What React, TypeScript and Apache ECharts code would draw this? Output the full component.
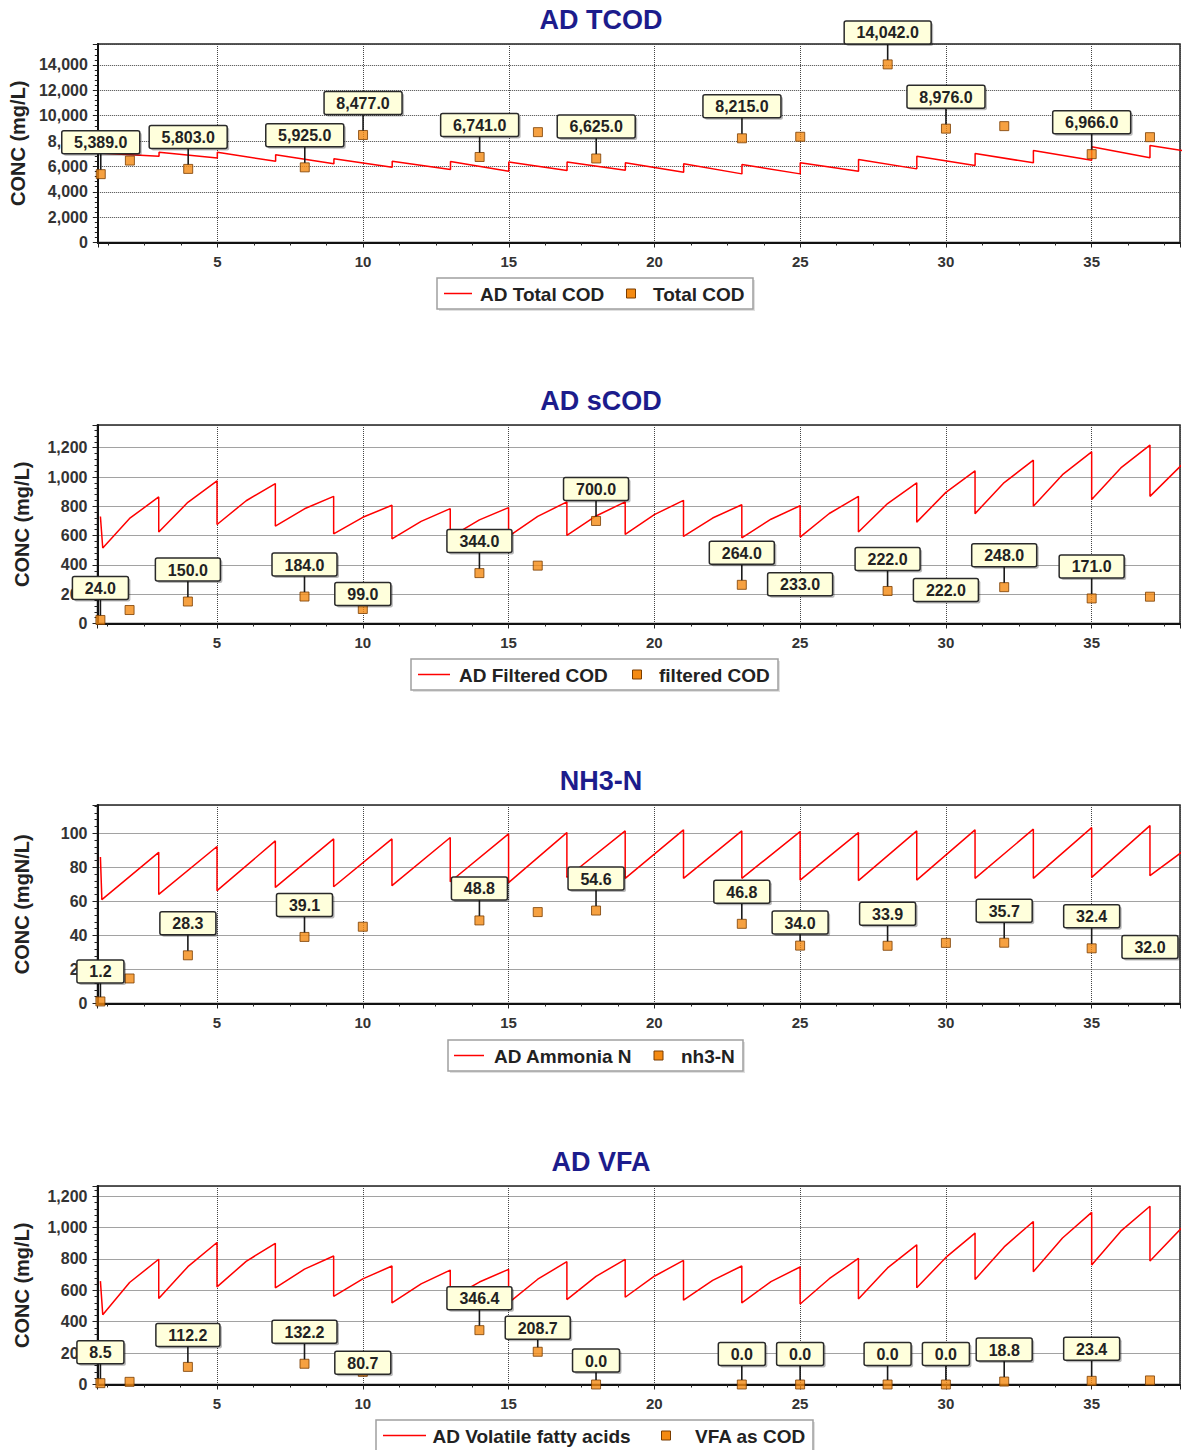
import React, { useEffect, useRef } from 'react';
import * as echarts from 'echarts';

// ---------- data ----------
const sampleDays = [1, 2, 4, 8, 10, 14, 16, 18, 23, 25, 28, 30, 32, 35, 37];

const tcodValues = [5389, 6460, 5803, 5925, 8477, 6741, 8700, 6625, 8215, 8337, 14042, 8976, 9175, 6966, 8305];
const scodValues = [24, 92, 150, 184, 99, 344, 395, 700, 264, 233, 222, 222, 248, 171, 183];
const nh3Values = [1.2, 14.7, 28.3, 39.1, 45.1, 48.8, 53.7, 54.6, 46.8, 34.0, 33.9, 35.6, 35.7, 32.4, 32.0];
const vfaValues = [8.5, 17, 112.2, 132.2, 80.7, 346.4, 208.7, 0.0, 0.0, 0.0, 0.0, 0.0, 18.8, 23.4, 26];

// which samples carry a value callout (1 = labelled)
const tcodLabelled = [1, 0, 1, 1, 1, 1, 0, 1, 1, 0, 1, 1, 0, 1, 0];
const scodLabelled = [1, 0, 1, 1, 1, 1, 0, 1, 1, 1, 1, 1, 1, 1, 0];
const nh3Labelled = [1, 0, 1, 1, 0, 1, 0, 1, 1, 1, 1, 0, 1, 1, 1];
const vfaLabelled = [1, 0, 1, 1, 1, 1, 1, 1, 1, 1, 1, 1, 1, 1, 0];

// model curves [day, value]
const tcodModel: [number, number][] = [
  [0.9, 7050], [3, 6800], [3, 7110], [5, 6670], [5, 7110], [7, 6400], [7, 6910], [9, 6200], [9, 6600],
  [11, 5935], [11, 6400], [13, 5750], [13, 6380], [15, 5615], [15, 6355], [17, 5670], [17, 6355],
  [19, 5700], [19, 6280], [21, 5535], [21, 6200], [23, 5410], [23, 6145], [25, 5410], [25, 6280],
  [27, 5615], [27, 6540], [29, 5805], [29, 6800], [31, 6065], [31, 7015], [33, 6280], [33, 7255],
  [35, 6485], [35, 7545], [37, 6680], [37, 7650], [38.1, 7260],
];
const scodModel: [number, number][] = [
  [1, 730], [1.08, 515], [2, 717], [3, 864], [3, 624], [4, 827], [5, 974], [5, 676], [6, 838], [7, 955],
  [7, 665], [8, 783], [9, 868], [9, 612], [10, 725], [11, 807], [11, 578], [12, 697], [13, 784], [13, 590],
  [14, 707], [15, 791], [15, 594], [16, 731], [17, 830], [17, 601], [18, 734], [19, 830], [19, 608],
  [20, 743], [21, 841], [21, 594], [22, 720], [23, 811], [23, 585], [24, 712], [25, 804], [25, 590],
  [26, 751], [27, 868], [27, 624], [28, 819], [29, 960], [29, 692], [30, 895], [31, 1042], [31, 750],
  [32, 962], [33, 1115], [33, 800], [34, 1016], [35, 1172], [35, 846], [36, 1062], [37, 1218], [37, 868],
  [38.1, 1085],
];
const nh3Model: [number, number][] = [
  [1, 86], [1.05, 61], [3, 88.8], [3, 64.1], [5, 92.2], [5, 66.3], [7, 95.5], [7, 68.2], [9, 96.7],
  [9, 68.6], [11, 96.7], [11, 69.2], [13, 97.5], [13, 71.5], [15, 99.6], [15, 71], [17, 100.4], [17, 74],
  [19, 101.4], [19, 73.5], [21, 102], [21, 73.5], [23, 101.4], [23, 73.5], [25, 101], [25, 72.5],
  [27, 100.4], [27, 72.2], [29, 101.4], [29, 72.5], [31, 102], [31, 73.5], [33, 102.4], [33, 73.5],
  [35, 103.3], [35, 74.1], [37, 104.5], [37, 75.1], [38.1, 89],
];
const vfaModel: [number, number][] = [
  [1, 659], [1.08, 445], [2, 650], [3, 798], [3, 548], [4, 751], [5, 905], [5, 622], [6, 785], [7, 900],
  [7, 616], [8, 735], [9, 819], [9, 562], [10, 673], [11, 755], [11, 520], [12, 641], [13, 729], [13, 548],
  [14, 653], [15, 734], [15, 520], [16, 671], [17, 783], [17, 541], [18, 689], [19, 798], [19, 556],
  [20, 690], [21, 791], [21, 537], [22, 664], [23, 755], [23, 520], [24, 656], [25, 749], [25, 513],
  [26, 674], [27, 804], [27, 545], [28, 743], [29, 890], [29, 616], [30, 810], [31, 965], [31, 669],
  [32, 877], [33, 1039], [33, 719], [34, 934], [35, 1097], [35, 761], [36, 977], [37, 1136], [37, 787],
  [38.1, 1000],
];

// ---------- layout (callout lift in px, keyed by day) ----------
const DEFAULT_LIFT = 32;
const tcodLift: Record<number, number> = {};
const scodLift: Record<number, number> = { 10: 15, 25: 5, 30: 1 };
const nh3Lift: Record<number, number> = { 1: 30, 25: 23, 37: 2 };
const vfaLift: Record<number, number> = { 1: 31, 10: 9, 16: 24, 18: 24, 23: 30.5, 25: 30.5, 28: 30.5, 30: 30.5 };

const FONT = '"Liberation Sans", Arial, Helvetica, sans-serif';
const TITLE_COLOR = '#1c1c8c';
const LINE_COLOR = '#ff0000';
const PT_FILL = '#f48a12';
const PT_BORDER = '#7a3d00';

const panels = [
  {
    title: 'AD TCOD', top: 44, yMax: 15650, yStep: 2000, yName: 'CONC (mg/L)',
    model: tcodModel, values: tcodValues, labelled: tcodLabelled, lift: tcodLift,
    lineName: 'AD Total COD', pointName: 'Total COD',
    legend: { x: 437, w: 316, top: 278, lx1: 444, lx2: 472, t1: 480, sq: 631, t2: 653 },
  },
  {
    title: 'AD sCOD', top: 425, yMax: 1355, yStep: 200, yName: 'CONC (mg/L)',
    model: scodModel, values: scodValues, labelled: scodLabelled, lift: scodLift,
    lineName: 'AD Filtered COD', pointName: 'filtered COD',
    legend: { x: 411, w: 367, top: 659, lx1: 418, lx2: 450, t1: 459, sq: 637, t2: 659 },
  },
  {
    title: 'NH3-N', top: 805, yMax: 116.6, yStep: 20, yName: 'CONC (mgN/L)',
    model: nh3Model, values: nh3Values, labelled: nh3Labelled, lift: nh3Lift,
    lineName: 'AD Ammonia N', pointName: 'nh3-N',
    legend: { x: 448, w: 295, top: 1040, lx1: 454, lx2: 484, t1: 494, sq: 658.5, t2: 681 },
  },
  {
    title: 'AD VFA', top: 1186, yMax: 1265, yStep: 200, yName: 'CONC (mg/L)',
    model: vfaModel, values: vfaValues, labelled: vfaLabelled, lift: vfaLift,
    lineName: 'AD Volatile fatty acids', pointName: 'VFA as COD',
    legend: { x: 376, w: 437, top: 1420, lx1: 383, lx2: 426, t1: 432.5, sq: 666, t2: 695 },
  },
];

const GRID_LEFT = 97.5;
const GRID_WIDTH = 1088;
const GRID_HEIGHT = 198.5;
const X_MIN = 0.9;
const X_MAX = 38.03;

let measureCtx: CanvasRenderingContext2D | null = null;
function textWidth(s: string, font: string): number {
  if (!measureCtx) measureCtx = document.createElement('canvas').getContext('2d');
  if (!measureCtx) return s.length * 9;
  measureCtx.font = font;
  return measureCtx.measureText(s).width;
}

const fmt1 = (v: number) =>
  v.toLocaleString('en-US', { minimumFractionDigits: 1, maximumFractionDigits: 1 });

function buildOption() {
  const grid: any[] = [];
  const xAxis: any[] = [];
  const yAxis: any[] = [];
  const series: any[] = [];
  const graphic: any[] = [];
  const labelFont = `bold 16px ${FONT}`;
  const legendFont = `bold 19px ${FONT}`;

  panels.forEach((p, i) => {
    grid.push({
      left: GRID_LEFT, top: p.top, width: GRID_WIDTH, height: GRID_HEIGHT,
      show: true, backgroundColor: '#ffffff', borderColor: '#222', borderWidth: 1.5,
    });
    xAxis.push({
      type: 'value', gridIndex: i, min: X_MIN, max: X_MAX, splitNumber: 7,
      axisLine: { onZero: false, lineStyle: { color: '#111', width: 2 } },
      axisTick: { show: true, length: 5, lineStyle: { color: '#222' } },
      minorTick: { show: true, splitNumber: 4, length: 3, lineStyle: { color: '#222' } },
      axisLabel: {
        formatter: (v: number) => (Math.abs(v % 5) < 1e-9 ? String(v) : ''),
        margin: 11, fontSize: 15, fontWeight: 'bold', color: '#333', fontFamily: FONT,
      },
      splitLine: { show: true, lineStyle: { type: 'dotted', color: '#444', width: 1 } },
    });
    yAxis.push({
      type: 'value', gridIndex: i, min: 0, max: p.yMax, interval: p.yStep,
      name: p.yName, nameLocation: 'middle', nameGap: 66,
      nameTextStyle: { fontSize: 20, fontWeight: 'bold', color: '#222', fontFamily: FONT },
      axisLine: { show: true, lineStyle: { color: '#111', width: 2 } },
      axisTick: { show: true, length: 5, lineStyle: { color: '#222' } },
      minorTick: { show: true, splitNumber: 5, length: 3, lineStyle: { color: '#222' } },
      axisLabel: {
        showMaxLabel: false,
        formatter: (v: number) => v.toLocaleString('en-US'),
        margin: 10, fontSize: 16, fontWeight: 'bold', color: '#333', fontFamily: FONT,
      },
      splitLine: { show: true, lineStyle: { type: 'dotted', color: '#444', width: 1 } },
    });

    series.push({
      type: 'line', name: p.lineName, xAxisIndex: i, yAxisIndex: i,
      data: p.model, showSymbol: false, symbol: 'none', silent: true, z: 2,
      lineStyle: { color: LINE_COLOR, width: 1.5 },
    });
    series.push({
      type: 'scatter', name: p.pointName, xAxisIndex: i, yAxisIndex: i,
      data: sampleDays.map((d, j) => [d, p.values[j]]),
      symbol: 'rect', symbolSize: 9, z: 3, silent: true,
      itemStyle: { color: PT_FILL, borderColor: PT_BORDER, borderWidth: 1 },
    });
    const calloutData = sampleDays
      .map((d, j) => [d, p.values[j], p.lift[d] !== undefined ? p.lift[d] : DEFAULT_LIFT, p.labelled[j]])
      .filter((r) => r[3] === 1)
      .map((r) => [r[0], r[1], r[2]]);
    series.push({
      type: 'custom', xAxisIndex: i, yAxisIndex: i, z: 5, clip: false, silent: true,
      encode: { x: 0, y: 1 },
      data: calloutData,
      renderItem: (_params: any, api: any) => {
        const d = api.value(0);
        const v = api.value(1);
        const lift = api.value(2);
        const pt = api.coord([d, v]);
        const text = fmt1(v);
        const w = Math.round(textWidth(text, labelFont) + 25);
        const h = 23;
        const cx = pt[0];
        const cy = pt[1] - lift;
        const children: any[] = [];
        if (lift > 16) {
          children.push({
            type: 'line',
            shape: { x1: cx, y1: cy + h / 2, x2: cx, y2: pt[1] - 4.5 },
            style: { stroke: '#1a1a1a', lineWidth: 1.6 },
          });
        }
        children.push({
          type: 'rect',
          shape: { x: cx - w / 2 + 2, y: cy - h / 2 + 2, width: w, height: h, r: 2 },
          style: { fill: 'rgba(0,0,0,0.28)' },
        });
        children.push({
          type: 'rect',
          shape: { x: cx - w / 2, y: cy - h / 2, width: w, height: h, r: 2 },
          style: { fill: '#ffffdc', stroke: '#2a2a2a', lineWidth: 1.5 },
        });
        children.push({
          type: 'text', x: cx, y: cy + 0.5,
          style: { text, font: labelFont, fill: '#222', align: 'center', verticalAlign: 'middle' },
        });
        return { type: 'group', children };
      },
    });

    // title
    graphic.push({
      type: 'text', x: 601, y: p.top - 24.5, z: 10,
      style: {
        text: p.title, font: `bold 27px ${FONT}`, fill: TITLE_COLOR,
        align: 'center', verticalAlign: 'middle',
      },
    });

    // legend
    const L = p.legend;
    const lh = 31;
    const cy = L.top + lh / 2;
    graphic.push({
      type: 'group', z: 10,
      children: [
        { type: 'rect', shape: { x: L.x + 2, y: L.top + 2, width: L.w, height: lh }, style: { fill: 'rgba(0,0,0,0.12)' } },
        { type: 'rect', shape: { x: L.x, y: L.top, width: L.w, height: lh }, style: { fill: '#ffffff', stroke: '#a0a0a0', lineWidth: 1.5 } },
        { type: 'line', shape: { x1: L.lx1, y1: cy, x2: L.lx2, y2: cy }, style: { stroke: LINE_COLOR, lineWidth: 1.5 } },
        { type: 'text', x: L.t1, y: cy + 0.5, style: { text: p.lineName, font: legendFont, fill: '#222', align: 'left', verticalAlign: 'middle' } },
        { type: 'rect', shape: { x: L.sq - 4.5, y: cy - 4.5, width: 9, height: 9 }, style: { fill: PT_FILL, stroke: PT_BORDER, lineWidth: 1 } },
        { type: 'text', x: L.t2, y: cy + 0.5, style: { text: p.pointName, font: legendFont, fill: '#222', align: 'left', verticalAlign: 'middle' } },
      ],
    });
  });

  return {
    animation: false,
    backgroundColor: '#ffffff',
    grid, xAxis, yAxis, series, graphic,
  };
}

export default function App() {
  const ref = useRef<HTMLDivElement>(null);
  useEffect(() => {
    document.body.style.margin = '0';
    if (!ref.current) return;
    const chart = echarts.init(ref.current, null, { renderer: 'svg' });
    chart.setOption(buildOption() as any);
    return () => chart.dispose();
  }, []);
  return <div ref={ref} style={{ width: 1183, height: 1450 }} />;
}
